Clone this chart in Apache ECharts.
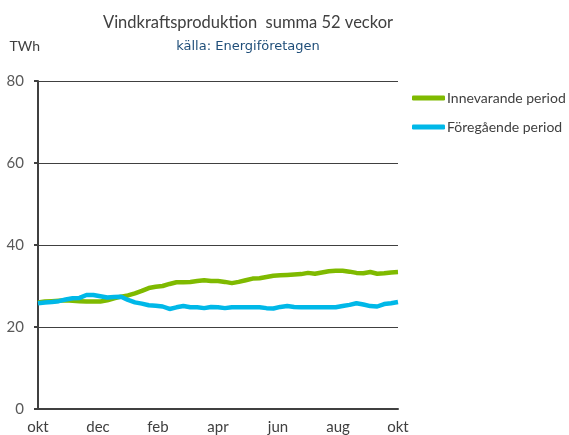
<!DOCTYPE html>
<html>
<head>
<meta charset="utf-8">
<script src="https://cdn.jsdelivr.net/npm/echarts@6/dist/echarts.min.js"></script>
<style>
  html, body { margin: 0; padding: 0; background: #fff; }
  #chart { width: 569px; height: 435px; }
</style>
</head>
<body>
<div id="chart"></div>
<script>
// month labels at every 52/6 weeks
const monthLabels = ['okt', 'dec', 'feb', 'apr', 'jun', 'aug', 'okt']
const yTicks = [0, 20, 40, 60, 80]

// TWh, rolling 52-week sum, one value per week
const innevarande = [
  26.0, 26.2, 26.3, 26.4, 26.5, 26.4, 26.3, 26.2, 26.2, 26.2,
  26.5, 27.0, 27.4, 27.7, 28.2, 28.8, 29.5, 29.8, 30.0, 30.5,
  30.9, 30.9, 31.0, 31.2, 31.4, 31.2, 31.2, 31.0, 30.7, 31.0,
  31.4, 31.8, 31.9, 32.2, 32.5, 32.6, 32.7, 32.8, 32.9, 33.2,
  33.0, 33.3, 33.6, 33.7, 33.7, 33.5, 33.2, 33.1, 33.4, 33.0,
  33.1, 33.3, 33.4
]
const foregaende = [
  25.8, 26.0, 26.1, 26.3, 26.7, 27.0, 27.1, 27.8, 27.8, 27.5,
  27.2, 27.3, 27.4, 26.6, 26.0, 25.7, 25.3, 25.2, 25.0, 24.4,
  24.8, 25.1, 24.8, 24.8, 24.6, 24.9, 24.8, 24.6, 24.8, 24.8,
  24.8, 24.8, 24.8, 24.6, 24.5, 24.9, 25.1, 24.9, 24.8, 24.8,
  24.8, 24.8, 24.8, 24.8, 25.1, 25.4, 25.8, 25.5, 25.1, 25.0,
  25.6, 25.8, 26.1
]

const weeks = innevarande.length - 1
const toPairs = arr => arr.map((v, i) => [i, v])

const font = 'Lato, "Open Sans", sans-serif'
const chart = echarts.init(document.getElementById('chart'))

chart.setOption({
  animation: false,
  textStyle: { fontFamily: font },
  title: {
    text: 'Vindkraftsproduktion  summa 52 veckor',
    subtext: 'källa: Energiföretagen',
    left: 243,
    textAlign: 'center',
    top: 9,
    itemGap: 9,
    textStyle: { fontSize: 16.5, fontWeight: 'normal', color: '#404040', fontFamily: font },
    subtextStyle: { fontSize: 13, color: '#1f4e79', fontFamily: '"DejaVu Sans", sans-serif' }
  },
  legend: {
    orient: 'vertical',
    left: 407,
    top: 86,
    itemGap: 15,
    itemWidth: 33,
    itemHeight: 5,
    icon: 'roundRect',
    textStyle: { fontSize: 14, color: '#404040', padding: [0, 0, 0, -3] },
    data: ['Innevarande period', 'Föregående period']
  },
  grid: { left: 38, right: 171, top: 81, bottom: 26 },
  xAxis: {
    type: 'value',
    min: 0,
    max: weeks,
    interval: weeks / 6,
    axisLine: { lineStyle: { color: '#404040', width: 2 } },
    axisTick: { show: false },
    splitLine: { show: false },
    axisLabel: {
      color: '#404040',
      fontSize: 15,
      margin: 11,
      showMinLabel: true,
      showMaxLabel: true,
      formatter: v => monthLabels[Math.round(v / (weeks / 6))]
    }
  },
  yAxis: {
    type: 'value',
    min: yTicks[0],
    max: yTicks[yTicks.length - 1],
    interval: 20,
    name: 'TWh',
    nameLocation: 'end',
    nameGap: 28,
    nameTextStyle: { color: '#404040', fontSize: 14, align: 'right', padding: [0, -2, 0, 0] },
    axisLine: { show: true, lineStyle: { color: '#404040', width: 2 } },
    axisTick: { show: true, length: 4, lineStyle: { color: '#404040', width: 2 } },
    splitLine: { lineStyle: { color: '#404040', width: 1 } },
    axisLabel: { color: '#595959', fontSize: 15, margin: 14 }
  },
  series: [
    {
      name: 'Innevarande period',
      type: 'line',
      data: toPairs(innevarande),
      showSymbol: false,
      symbol: 'none',
      lineStyle: { width: 4.5, color: '#7fba00' },
      itemStyle: { color: '#7fba00' }
    },
    {
      name: 'Föregående period',
      type: 'line',
      data: toPairs(foregaende),
      showSymbol: false,
      symbol: 'none',
      lineStyle: { width: 4.5, color: '#00b8e8' },
      itemStyle: { color: '#00b8e8' }
    }
  ]
})
</script>
</body>
</html>
